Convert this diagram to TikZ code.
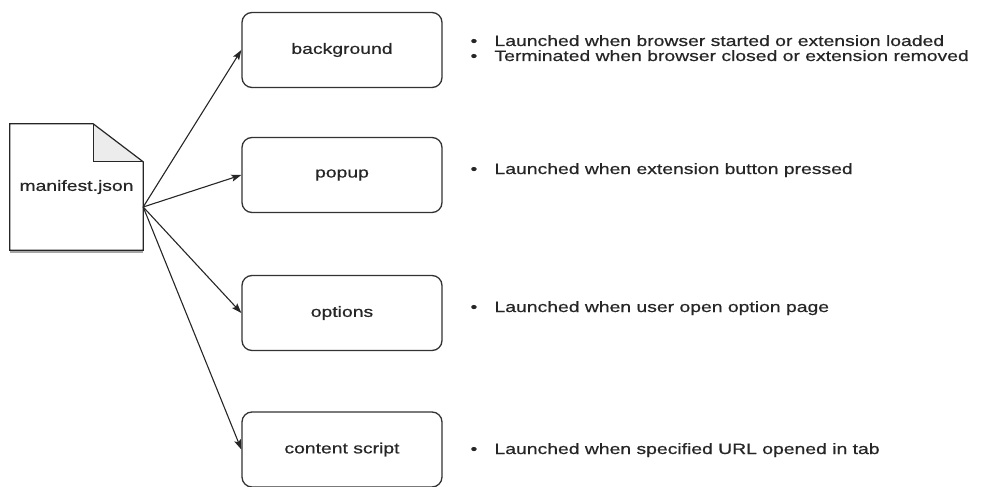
\documentclass[tikz,border=0pt]{standalone}
\usepackage{fontspec}
\setmainfont{Liberation Sans}[FakeStretch=1.29,FakeBold=0.6]
\usetikzlibrary{arrows.meta}
\tikzset{
    RB/.style ={rectangle, rounded corners=10pt, draw=black!80, line width=1.3pt, minimum width=200pt, minimum height=75pt, text=black!85},
    DC/.style ={rectangle, minimum width=133pt, minimum height=126pt, text=black!85},
    TX/.style ={anchor=west, align=left, text=black!85, text height=11pt, text depth=3pt},
    AR/.style ={-{Stealth[length=10pt,width=7pt,inset=2pt]}, line width=1.1pt, draw=black!85}}
\newcommand{\bul}{\makebox[24pt][l]{\textbullet}}

\begin{document}
\begin{tikzpicture}[x=1pt,y=-1pt,font=\fontsize{15}{15}\selectfont]
        \useasboundingbox (0,0) rectangle (983,487);
        \node[DC] (manifest) at (76.5,187) {manifest.json};
        \fill[gray!15] ([xshift=-50pt]manifest.north east) -- ([xshift=-50pt,yshift=-38pt]manifest.north east) -- ([yshift=-38pt]manifest.north east) -- cycle;
        \draw[gray!70, line width=3pt] ([yshift=-1pt]manifest.south west) -- ([yshift=-1pt]manifest.south east);
        \draw[black!85, line width=1.2pt] (manifest.north west) -- ([xshift=-50pt]manifest.north east) -- ([yshift=-38pt]manifest.north east) -- (manifest.south east) -- (manifest.south west) -- cycle;
        \draw[black!85, line width=1.2pt] ([xshift=-50pt]manifest.north east) -- ([xshift=-50pt,yshift=-38pt]manifest.north east) -- ([yshift=-38pt]manifest.north east);
        \coordinate (hub) at ([yshift=-20pt]manifest.east);
        \node[RB] (bg) at (342,50) {background};
        \node[RB] (pop) at (342,175) {popup};
        \node[RB] (opt) at (342,313) {options};
        \node[RB] (cs) at (342,449.5) {content script};
        \foreach \n in {bg,pop,opt,cs}{
            \draw[AR] (hub) -- (\n.west);}
        \node[TX] (bgtxt1) at (467,42) {\bul Launched when browser started or extension loaded};
        \node[TX] (bgtxt2) at (467,57) {\bul Terminated when browser closed or extension removed};
        \node[TX] (poptxt) at (467,170) {\bul Launched when extension button pressed};
        \node[TX] (opttxt) at (467,308) {\bul Launched when user open option page};
        \node[TX] (cstxt) at (467,450) {\bul Launched when specified URL opened in tab};
    \end{tikzpicture}
\end{document}
